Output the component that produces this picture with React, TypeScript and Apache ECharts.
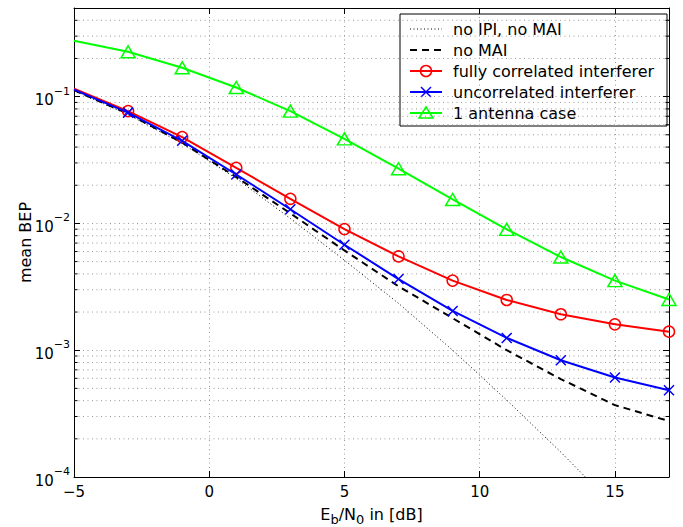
import React, { useEffect, useRef } from "react";
import * as echarts from "echarts";

// ---- data ----
const ebn0 = [-5, -3, -1, 1, 3, 5, 7, 9, 11, 13, 15, 17];
const noIpiNoMai = [0.1114, 0.0721, 0.0427, 0.0226, 0.01094, 0.00512, 0.00234, 0.001, 0.000404, 0.000157, 0.000058, 0.0000203];
const noMai = [0.1124, 0.0734, 0.0434, 0.0232, 0.012, 0.00612, 0.00319, 0.00179, 0.001, 0.000592, 0.000369, 0.000276];
const fullyCorr = [0.1156, 0.0769, 0.048, 0.0274, 0.01563, 0.00902, 0.00549, 0.00354, 0.00249, 0.00192, 0.0016, 0.0014];
const uncorr = [0.1135, 0.0748, 0.0448, 0.0243, 0.01294, 0.00679, 0.00364, 0.00204, 0.00125, 0.000833, 0.00061, 0.000484];
const oneAntenna = [0.276, 0.226, 0.169, 0.118, 0.0769, 0.0464, 0.027, 0.01545, 0.00898, 0.00543, 0.00354, 0.00251];

const seriesNames = [
  "no IPI, no MAI",
  "no MAI",
  "fully correlated interferer",
  "uncorrelated interferer",
  "1 antenna case",
];
const xTicks = [-5, 0, 5, 10, 15];
const xMin = -5;
const xMax = 17;
const yMinVal = 1e-4;
const yMaxVal = 0.5;
const minorMultipliers = [2, 3, 4, 5, 6, 7, 8, 9];
const decades = [-4, -3, -2, -1];

const FONT = "DejaVu Sans";
const GRID_COLOR = "#9a9a9a";
const GRID_DASH = [1, 3.5];

export default function App() {
  const ref = useRef<HTMLDivElement>(null);

  useEffect(() => {
    if (!ref.current) return;
    const chart = echarts.init(ref.current, null, { renderer: "svg" });
    const lg = (v: number) => Math.log10(v);
    const toData = (arr: number[]) =>
      arr.map((v, i) => (i === 0 ? { value: [ebn0[i], lg(v)], symbol: "none" } : { value: [ebn0[i], lg(v)] }));

    const minorVals: number[][] = [];
    decades.forEach((d) => {
      minorMultipliers.forEach((m) => {
        const v = m * Math.pow(10, d);
        if (v < yMaxVal) minorVals.push([xMin, lg(v)]);
      });
    });

    const isInt = (v: number) => Math.abs(v - Math.round(v)) < 1e-9;
    const minus = (n: number) => (n < 0 ? "\u2212" + Math.abs(n) : String(n));

    // legend (MATLAB-style box)
    const lgX = 400, lgY = 14, lgW = 267, lgH = 112;
    const rowY = (i: number) => lgY + 15 + i * 21;
    const sx1 = 410, sx2 = 442, mx = 426;
    const legendChildren: any[] = [
      { type: "rect", shape: { x: lgX, y: lgY, width: lgW, height: lgH }, style: { fill: "#fff", stroke: "#000", lineWidth: 1 } },
    ];
    const styles = [
      { stroke: "#000", lineWidth: 1, lineDash: [1, 2.5] },
      { stroke: "#000", lineWidth: 2, lineDash: [7, 5] },
      { stroke: "#ff0000", lineWidth: 2 },
      { stroke: "#0000ff", lineWidth: 2 },
      { stroke: "#00ff00", lineWidth: 2 },
    ];
    seriesNames.forEach((name, i) => {
      const y = rowY(i);
      legendChildren.push({ type: "line", shape: { x1: sx1, y1: y, x2: sx2, y2: y }, style: styles[i] });
      legendChildren.push({
        type: "text",
        x: 453,
        y: y,
        style: { text: name, fontSize: 16, fontFamily: FONT, fill: "#000", align: "left", verticalAlign: "middle" },
      });
    });
    legendChildren.push({ type: "circle", shape: { cx: mx, cy: rowY(2), r: 5.5 }, style: { fill: "none", stroke: "#ff0000", lineWidth: 1.5 } });
    legendChildren.push({ type: "line", shape: { x1: mx - 5, y1: rowY(3) - 5, x2: mx + 5, y2: rowY(3) + 5 }, style: { stroke: "#0000ff", lineWidth: 1.5 } });
    legendChildren.push({ type: "line", shape: { x1: mx - 5, y1: rowY(3) + 5, x2: mx + 5, y2: rowY(3) - 5 }, style: { stroke: "#0000ff", lineWidth: 1.5 } });
    legendChildren.push({
      type: "polygon",
      shape: { points: [[mx - 7, rowY(4) + 5], [mx + 7, rowY(4) + 5], [mx, rowY(4) - 6]] },
      style: { fill: "none", stroke: "#00ff00", lineWidth: 1.5 },
    });

    const axisLineStyle = { show: true, onZero: false, lineStyle: { color: "#000", width: 1 } };
    const tickStyle = { show: true, inside: true, length: 6, lineStyle: { color: "#000", width: 1 } };

    chart.setOption({
      animation: false,
      backgroundColor: "#fff",
      grid: { left: 74, right: 14, top: 8, bottom: 50, outerBoundsMode: "none", containLabel: false },
      xAxis: [
        {
          type: "value",
          min: xMin,
          max: xMax,
          interval: 5,
          axisLine: axisLineStyle,
          axisTick: tickStyle,
          splitLine: { show: true, lineStyle: { color: GRID_COLOR, type: GRID_DASH, width: 1 } },
          axisLabel: {
            margin: 7,
            fontSize: 15,
            fontFamily: FONT,
            color: "#000",
            formatter: (v: number) => (xTicks.indexOf(v) >= 0 ? minus(v) : ""),
          },
          name: "E{sub|b}/N{sub|0} in [dB]",
          nameLocation: "middle",
          nameGap: 21,
          nameTextStyle: {
            fontSize: 16,
            fontFamily: FONT,
            color: "#000",
            lineHeight: 22,
            rich: { sub: { fontSize: 13, fontFamily: FONT, color: "#000", verticalAlign: "bottom" } },
          },
        },
        {
          type: "value",
          position: "top",
          min: xMin,
          max: xMax,
          interval: 5,
          axisLine: axisLineStyle,
          axisTick: tickStyle,
          axisLabel: { show: false },
          splitLine: { show: false },
        },
      ],
      yAxis: [
        {
          type: "value",
          min: lg(yMinVal),
          max: lg(yMaxVal),
          interval: 1,
          axisLine: axisLineStyle,
          axisTick: tickStyle,
          splitLine: { show: true, lineStyle: { color: GRID_COLOR, type: GRID_DASH, width: 1 } },
          axisLabel: {
            margin: 4,
            fontSize: 15,
            fontFamily: FONT,
            color: "#000",
            lineHeight: 22,
            formatter: (v: number) => (isInt(v) ? `{b|10}{s|${minus(Math.round(v))}}` : ""),
            rich: {
              b: { fontSize: 15, fontFamily: FONT, color: "#000", verticalAlign: "bottom" },
              s: { fontSize: 11, fontFamily: FONT, color: "#000", verticalAlign: "top" },
            },
          },
          name: "mean BEP",
          nameLocation: "middle",
          nameGap: 41,
          nameMoveOverlap: false,
          nameTextStyle: { fontSize: 16, fontFamily: FONT, color: "#000" },
        },
        {
          type: "value",
          position: "right",
          min: lg(yMinVal),
          max: lg(yMaxVal),
          interval: 1,
          axisLine: axisLineStyle,
          axisTick: tickStyle,
          axisLabel: { show: false },
          splitLine: { show: false },
        },
      ],
      graphic: [{ type: "group", z: 100, children: legendChildren }],
      series: [
        {
          type: "custom",
          name: "minor",
          silent: true,
          z: 1,
          xAxisIndex: 0,
          yAxisIndex: 0,
          encode: { x: 0, y: 1 },
          data: minorVals,
          renderItem: (params: any, api: any) => {
            const v = api.value(1);
            const p0 = api.coord([xMin, v]);
            const p1 = api.coord([xMax, v]);
            return {
              type: "group",
              children: [
                { type: "line", shape: { x1: p0[0], y1: p0[1], x2: p1[0], y2: p1[1] }, style: { stroke: GRID_COLOR, lineWidth: 1, lineDash: GRID_DASH } },
                { type: "line", shape: { x1: p0[0], y1: p0[1], x2: p0[0] + 3.5, y2: p0[1] }, style: { stroke: "#000", lineWidth: 1 } },
                { type: "line", shape: { x1: p1[0] - 3.5, y1: p1[1], x2: p1[0], y2: p1[1] }, style: { stroke: "#000", lineWidth: 1 } },
              ],
            };
          },
        },
        {
          type: "line",
          name: seriesNames[0],
          data: ebn0.map((x, i) => [x, lg(noIpiNoMai[i])]),
          symbol: "none",
          lineStyle: { color: "#000", width: 1, type: [1, 2.5] },
          z: 3,
        },
        {
          type: "line",
          name: seriesNames[1],
          data: ebn0.map((x, i) => [x, lg(noMai[i])]),
          symbol: "none",
          lineStyle: { color: "#000", width: 2, type: [7, 5] },
          z: 4,
        },
        {
          type: "line",
          name: seriesNames[2],
          data: toData(fullyCorr),
          symbol: "circle",
          symbolSize: 11,
          showSymbol: true,
          showAllSymbol: true,
          itemStyle: { color: "rgba(0,0,0,0)", borderColor: "#ff0000", borderWidth: 1.5 },
          lineStyle: { color: "#ff0000", width: 2 },
          z: 5,
        },
        {
          type: "line",
          name: seriesNames[3],
          data: toData(uncorr),
          symbol: "path://M0,0L10,10M10,0L0,10",
          symbolSize: 10,
          showSymbol: true,
          showAllSymbol: true,
          itemStyle: { color: "rgba(0,0,0,0)", borderColor: "#0000ff", borderWidth: 1.5 },
          lineStyle: { color: "#0000ff", width: 2 },
          z: 6,
        },
        {
          type: "line",
          name: seriesNames[4],
          data: toData(oneAntenna),
          symbol: "triangle",
          symbolSize: [14, 12],
          showSymbol: true,
          showAllSymbol: true,
          itemStyle: { color: "rgba(0,0,0,0)", borderColor: "#00ff00", borderWidth: 1.5 },
          lineStyle: { color: "#00ff00", width: 2 },
          z: 7,
        },
      ],
    });

    return () => chart.dispose();
  }, []);

  return <div ref={ref} style={{ position: "absolute", left: 0, top: 0, width: 683, height: 527 }} />;
}
